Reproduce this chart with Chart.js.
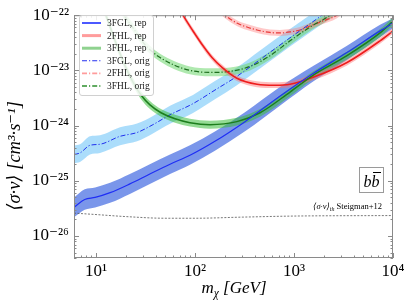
<!DOCTYPE html>
<html>
<head>
<meta charset="utf-8">
<script src="https://cdn.jsdelivr.net/npm/chart.js@4.4.1/dist/chart.umd.min.js"></script>
<style>
  html, body { margin: 0; padding: 0; background: #fff; }
  #wrap { width: 411px; height: 308px; }
</style>
</head>
<body>
<div id="wrap"><canvas id="chart"></canvas></div>
<script>
// axis ticks
const xTicks = [10, 100, 1000, 10000];
const yTicks = [1e-26, 1e-25, 1e-24, 1e-23, 1e-22];

// 3FGL, rep
const fglRepMass = [6, 7.7, 9.8, 13.9, 22, 35, 56, 89, 159, 320, 720, 1560, 3430, 7400, 10000];
const fglRepSv = [3.3e-26, 4.6e-26, 5.0e-26, 6.1e-26, 8.8e-26, 1.33e-25, 2.0e-25, 2.9e-25, 5.2e-25, 1.18e-24, 3.4e-24, 8.8e-24, 2.1e-23, 5.2e-23, 7.2e-23];
const fglRepHi = [5.0e-26, 7.0e-26, 7.6e-26, 9.2e-26, 1.33e-25, 2.0e-25, 3.0e-25, 4.4e-25, 7.8e-25, 1.75e-24, 5.0e-24, 1.2e-23, 2.8e-23, 6.7e-23, 8.8e-23];
const fglRepLo = [2.2e-26, 3.0e-26, 3.3e-26, 4.0e-26, 5.8e-26, 8.8e-26, 1.33e-25, 1.95e-25, 3.5e-25, 7.9e-25, 2.3e-24, 6.3e-24, 1.55e-23, 4.0e-23, 5.8e-23];

// 3FGL, orig
const fglOrigMass = [6, 6.9, 8.7, 11.0, 17.5, 26, 37.6, 56, 95.5, 159, 265, 454, 912, 1920, 2600];
const fglOrigSv = [3.0e-25, 3.2e-25, 4.4e-25, 4.6e-25, 6.4e-25, 7.5e-25, 1.04e-24, 1.57e-24, 2.5e-24, 4.4e-24, 7.8e-24, 1.57e-23, 3.9e-23, 1.0e-22, 1.5e-22];
const fglOrigHi = [4.4e-25, 4.6e-25, 6.4e-25, 6.7e-25, 9.3e-25, 1.09e-24, 1.5e-24, 2.3e-24, 3.6e-24, 6.4e-24, 1.13e-23, 2.3e-23, 5.6e-23, 1.45e-22, 2.2e-22];
const fglOrigLo = [2.1e-25, 2.2e-25, 3.0e-25, 3.2e-25, 4.4e-25, 5.2e-25, 7.2e-25, 1.08e-24, 1.7e-24, 3.0e-24, 5.4e-24, 1.08e-23, 2.7e-23, 6.9e-23, 1.0e-22];

// 3FHL, rep
const fhlRepMass = [11.5, 12.6, 15.6, 19.6, 23.7, 28.5, 35.1, 45.4, 62.9, 89, 142, 265, 454, 912, 1556, 3433, 7396, 10000];
const fhlRepSv = [1.5e-22, 1.0e-22, 3.43e-23, 1.23e-23, 6.1e-24, 3.58e-24, 2.37e-24, 1.71e-24, 1.33e-24, 1.13e-24, 1.04e-24, 1.18e-24, 1.71e-24, 4.05e-24, 8.15e-24, 1.85e-23, 4.77e-23, 7.8e-23];
const fhlRepHi = [1.8e-22, 1.18e-22, 4.05e-23, 1.45e-23, 7.2e-24, 4.2e-24, 2.8e-24, 2.0e-24, 1.57e-24, 1.33e-24, 1.23e-24, 1.39e-24, 2.0e-24, 4.8e-24, 9.6e-24, 2.2e-23, 5.6e-23, 9.2e-23];
const fhlRepLo = [1.27e-22, 8.5e-23, 2.9e-23, 1.04e-23, 5.2e-24, 3.0e-24, 2.0e-24, 1.45e-24, 1.13e-24, 9.6e-25, 8.8e-25, 1.0e-24, 1.45e-24, 3.4e-24, 6.9e-24, 1.57e-23, 4.0e-23, 6.6e-23];

// 3FHL, orig
const fhlOrigMass = [17.5, 19.2, 23.7, 28.5, 35.1, 44.4, 62.9, 89, 142, 226, 360, 573, 912, 1452, 2312, 2700];
const fhlOrigSv = [1.4e-22, 1.0e-22, 5.9e-23, 3.6e-23, 2.37e-23, 1.71e-23, 1.23e-23, 1.0e-23, 9.2e-24, 9.6e-24, 1.18e-23, 1.85e-23, 3.43e-23, 6.1e-23, 1.0e-22, 1.3e-22];
const fhlOrigHi = [1.65e-22, 1.18e-22, 7.0e-23, 4.2e-23, 2.8e-23, 2.0e-23, 1.45e-23, 1.18e-23, 1.09e-23, 1.13e-23, 1.39e-23, 2.2e-23, 4.0e-23, 7.2e-23, 1.18e-22, 1.53e-22];
const fhlOrigLo = [1.19e-22, 8.5e-23, 5.0e-23, 3.05e-23, 2.0e-23, 1.45e-23, 1.04e-23, 8.5e-24, 7.8e-24, 8.1e-24, 1.0e-23, 1.57e-23, 2.9e-23, 5.2e-23, 8.5e-23, 1.1e-22];

// 2FHL, rep
const fhl2RepMass = [70, 75.7, 95.5, 120.5, 148.6, 187.5, 265, 423, 643, 912, 1556, 3433, 7396, 10000];
const fhl2RepSv = [1.3e-22, 1.0e-22, 5.18e-23, 2.79e-23, 1.71e-23, 1.13e-23, 7.2e-24, 5.62e-24, 5.4e-24, 5.62e-24, 7.5e-24, 1.39e-23, 3.43e-23, 5.18e-23];
const fhl2RepHi = [1.47e-22, 1.13e-22, 5.85e-23, 3.15e-23, 1.93e-23, 1.28e-23, 8.1e-24, 6.35e-24, 6.1e-24, 6.35e-24, 8.5e-24, 1.57e-23, 3.9e-23, 5.85e-23];
const fhl2RepLo = [1.15e-22, 8.85e-23, 4.6e-23, 2.47e-23, 1.51e-23, 1.0e-23, 6.4e-24, 4.97e-24, 4.78e-24, 4.97e-24, 6.6e-24, 1.23e-23, 3.04e-23, 4.6e-23];

// 2FHL, orig
const fhl2OrigMass = [180, 201, 265, 335, 423, 573, 722, 912, 1150, 1452, 1832, 2720, 3100];
const fhl2OrigSv = [1.2e-22, 1.0e-22, 7.2e-23, 6.1e-23, 5.4e-23, 4.87e-23, 4.77e-23, 4.97e-23, 5.4e-23, 6.37e-23, 7.5e-23, 1.0e-22, 1.2e-22];
const fhl2OrigHi = [1.36e-22, 1.13e-22, 8.1e-23, 6.9e-23, 6.1e-23, 5.5e-23, 5.4e-23, 5.6e-23, 6.1e-23, 7.2e-23, 8.5e-23, 1.13e-22, 1.36e-22];
const fhl2OrigLo = [1.06e-22, 8.85e-23, 6.4e-23, 5.4e-23, 4.78e-23, 4.3e-23, 4.22e-23, 4.4e-23, 4.78e-23, 5.64e-23, 6.64e-23, 8.85e-23, 1.06e-22];

// thermal relic, Steigman+12
const steigMass = [6, 10, 20, 50, 100, 300, 1000, 10000];
const steigSv = [2.6e-26, 2.45e-26, 2.25e-26, 2.1e-26, 2.1e-26, 2.2e-26, 2.3e-26, 2.35e-26];

const SERIF = '"Liberation Serif", "DejaVu Serif", serif';
const dashDot = [5, 2, 1.2, 2];

const pts = (xs, ys) => xs.map((x, i) => ({ x, y: ys[i] }));

function band(xs, hi, lo, color, order) {
  return [
    { data: pts(xs, hi), borderWidth: 0, pointRadius: 0, fill: '+1', backgroundColor: color, order },
    { data: pts(xs, lo), borderWidth: 0, pointRadius: 0, fill: false, order }
  ];
}

function line(xs, ys, color, width, dash, order) {
  return { data: pts(xs, ys), borderColor: color, borderWidth: width, borderDash: dash,
           pointRadius: 0, fill: false, order };
}

const supMap = { '-': '⁻', '0': '⁰', '1': '¹', '2': '²', '3': '³', '4': '⁴', '5': '⁵', '6': '⁶', '7': '⁷', '8': '⁸', '9': '⁹' };
const powLabel = v => '10' + String(Math.round(Math.log10(v))).split('').map(c => supMap[c]).join('');

const legendRows = [
  { label: '3FGL, rep', color: '#1f2fff', width: 1.6, dash: [] },
  { label: '2FHL, rep', color: '#ff9c9c', width: 3, dash: [] },
  { label: '3FHL, rep', color: '#8fd28f', width: 3, dash: [] },
  { label: '3FGL, orig', color: '#2430f0', width: 1.1, dash: dashDot },
  { label: '2FHL, orig', color: '#ff9c9c', width: 1.6, dash: dashDot },
  { label: '3FHL, orig', color: '#2e8f2e', width: 1.6, dash: dashDot }
];

const decor = {
  id: 'decor',
  afterDatasetsDraw(chart) {
    const { ctx, chartArea: a, scales: { x, y } } = chart;
    ctx.save();
    ctx.strokeStyle = '#8a8a8a';
    ctx.lineWidth = 1;
    ctx.strokeRect(a.left + 0.5, a.top + 0.5, a.right - a.left - 1, a.bottom - a.top - 1);
    ctx.beginPath();
    for (let e = 0; e <= 4; e++) {
      for (let k = 1; k <= 9; k++) {
        const v = k * Math.pow(10, e);
        if (v < x.min || v > x.max) continue;
        const px = Math.round(x.getPixelForValue(v)) + 0.5;
        const len = k === 1 ? 5 : 2.5;
        ctx.moveTo(px, a.bottom); ctx.lineTo(px, a.bottom - len);
        ctx.moveTo(px, a.top); ctx.lineTo(px, a.top + len);
      }
    }
    for (let e = -27; e <= -22; e++) {
      for (let k = 1; k <= 9; k++) {
        const v = k * Math.pow(10, e);
        if (v < y.min * 0.999 || v > y.max * 1.001) continue;
        const py = Math.round(y.getPixelForValue(v)) + 0.5;
        const len = k === 1 ? 5 : 2.5;
        ctx.moveTo(a.left, py); ctx.lineTo(a.left + len, py);
        ctx.moveTo(a.right, py); ctx.lineTo(a.right - len, py);
      }
    }
    ctx.stroke();
    ctx.restore();
  },
  afterDraw(chart) {
    const { ctx } = chart;
    ctx.save();
    ctx.fillStyle = '#000';

    // y title
    ctx.save();
    ctx.translate(15, 156);
    ctx.rotate(-Math.PI / 2);
    ctx.textAlign = 'center';
    ctx.textBaseline = 'middle';
    ctx.font = 'italic 18.5px ' + SERIF;
    ctx.fillText('⟨σ·v⟩ [cm³·s⁻¹]', 0, 0);
    ctx.restore();

    // x title
    ctx.textBaseline = 'alphabetic';
    ctx.textAlign = 'left';
    const big = 'italic 17px ' + SERIF, small = 'italic 11.5px ' + SERIF;
    ctx.font = big; const wm = ctx.measureText('m').width; const wg = ctx.measureText(' [GeV]').width;
    ctx.font = small; const wc = ctx.measureText('χ').width;
    let tx = 234 - (wm + wc + wg) / 2;
    ctx.font = big; ctx.fillText('m', tx, 293); tx += wm;
    ctx.font = small; ctx.fillText('χ', tx, 297); tx += wc;
    ctx.font = big; ctx.fillText(' [GeV]', tx, 293);

    // Steigman label
    const s1 = 'italic 8.5px ' + SERIF, s2 = 'italic 6px ' + SERIF, s3 = '8.5px ' + SERIF;
    ctx.font = s1; const w1 = ctx.measureText('⟨σ·v⟩').width;
    ctx.font = s2; const w2 = ctx.measureText('th').width;
    ctx.font = s3; const w3 = ctx.measureText(' Steigman+12').width;
    tx = 382 - (w1 + w2 + w3);
    ctx.font = s1; ctx.fillText('⟨σ·v⟩', tx, 209); tx += w1;
    ctx.font = s2; ctx.fillText('th', tx, 211); tx += w2;
    ctx.font = s3; ctx.fillText(' Steigman+12', tx, 209);

    // channel box
    ctx.fillStyle = '#fff';
    ctx.fillRect(359.5, 167.5, 24, 25);
    ctx.strokeStyle = '#9a9a9a';
    ctx.lineWidth = 1;
    ctx.strokeRect(359.5, 167.5, 24, 25);
    ctx.fillStyle = '#000';
    ctx.font = 'italic 16px ' + SERIF;
    const wb = ctx.measureText('b').width;
    const bx = 371.5 - wb;
    ctx.fillText('bb', bx, 187);
    ctx.strokeStyle = '#000';
    ctx.beginPath();
    ctx.moveTo(bx + wb + 1.5, 172.5); ctx.lineTo(bx + 2 * wb + 1.5, 172.5);
    ctx.stroke();

    // legend
    const lx = 79.5, ly = 15.5, lw = 74, lh = 80, r = 2.5;
    ctx.beginPath();
    ctx.moveTo(lx + r, ly);
    ctx.arcTo(lx + lw, ly, lx + lw, ly + lh, r);
    ctx.arcTo(lx + lw, ly + lh, lx, ly + lh, r);
    ctx.arcTo(lx, ly + lh, lx, ly, r);
    ctx.arcTo(lx, ly, lx + lw, ly, r);
    ctx.closePath();
    ctx.fillStyle = 'rgba(255,255,255,0.85)';
    ctx.fill();
    ctx.strokeStyle = '#d0d0d0';
    ctx.stroke();
    ctx.font = '9.5px ' + SERIF;
    ctx.textBaseline = 'middle';
    legendRows.forEach((row, i) => {
      const ry = 23 + i * 12.6;
      ctx.beginPath();
      ctx.strokeStyle = row.color;
      ctx.lineWidth = row.width;
      ctx.setLineDash(row.dash);
      ctx.moveTo(82, ry); ctx.lineTo(101, ry);
      ctx.stroke();
      ctx.setLineDash([]);
      ctx.fillStyle = '#222';
      ctx.fillText(row.label, 107, ry + 0.5);
    });
    ctx.restore();
  }
};

Chart.defaults.font.family = SERIF;

new Chart(document.getElementById('chart'), {
  type: 'line',
  data: {
    datasets: [
      line(fglRepMass, fglRepSv, '#1f2ff5', 1.2, [], 1),
      line(fhlRepMass, fhlRepSv, '#1c7d1c', 1.5, [], 2),
      line(fhl2RepMass, fhl2RepSv, '#ee1d1d', 1.6, [], 3),
      line(fglOrigMass, fglOrigSv, '#2030ee', 1, dashDot, 4),
      line(fhlOrigMass, fhlOrigSv, '#1e6e1e', 1.2, dashDot, 5),
      line(fhl2OrigMass, fhl2OrigSv, '#e83a3a', 1.2, dashDot, 6),
      line(steigMass, steigSv, '#555', 0.8, [2, 1.5], 7),
      ...band(fhl2RepMass, fhl2RepHi, fhl2RepLo, 'rgba(255,110,110,0.45)', 10),
      ...band(fhlRepMass, fhlRepHi, fhlRepLo, 'rgba(60,190,60,0.55)', 11),
      ...band(fglRepMass, fglRepHi, fglRepLo, 'rgba(65,105,225,0.7)', 12),
      ...band(fhl2OrigMass, fhl2OrigHi, fhl2OrigLo, 'rgba(255,120,120,0.4)', 13),
      ...band(fhlOrigMass, fhlOrigHi, fhlOrigLo, 'rgba(110,215,110,0.55)', 14),
      ...band(fglOrigMass, fglOrigHi, fglOrigLo, 'rgba(135,206,250,0.7)', 15)
    ]
  },
  options: {
    responsive: true,
    maintainAspectRatio: false,
    animation: false,
    events: [],
    cubicInterpolationMode: 'monotone',
    layout: { padding: { top: 12, right: 18, left: 0, bottom: 0 } },
    plugins: { legend: { display: false }, tooltip: { enabled: false } },
    scales: {
      x: {
        type: 'logarithmic',
        min: 6,
        max: 10000,
        afterBuildTicks: s => { s.ticks = xTicks.map(v => ({ value: v })); },
        afterFit: s => { s.height = 50; },
        grid: { display: false, drawTicks: false },
        border: { display: false },
        ticks: { callback: v => powLabel(v), font: { size: 17 }, color: '#000', padding: 3,
                 maxRotation: 0, autoSkip: false }
      },
      y: {
        type: 'logarithmic',
        min: 4e-27,
        max: 1e-22,
        afterBuildTicks: s => { s.ticks = yTicks.map(v => ({ value: v })); },
        afterFit: s => { s.width = 74; },
        grid: { display: false, drawTicks: false },
        border: { display: false },
        ticks: { callback: v => powLabel(v), font: { size: 17 }, color: '#000', padding: 5,
                 autoSkip: false }
      }
    }
  },
  plugins: [decor]
});
</script>
</body>
</html>
